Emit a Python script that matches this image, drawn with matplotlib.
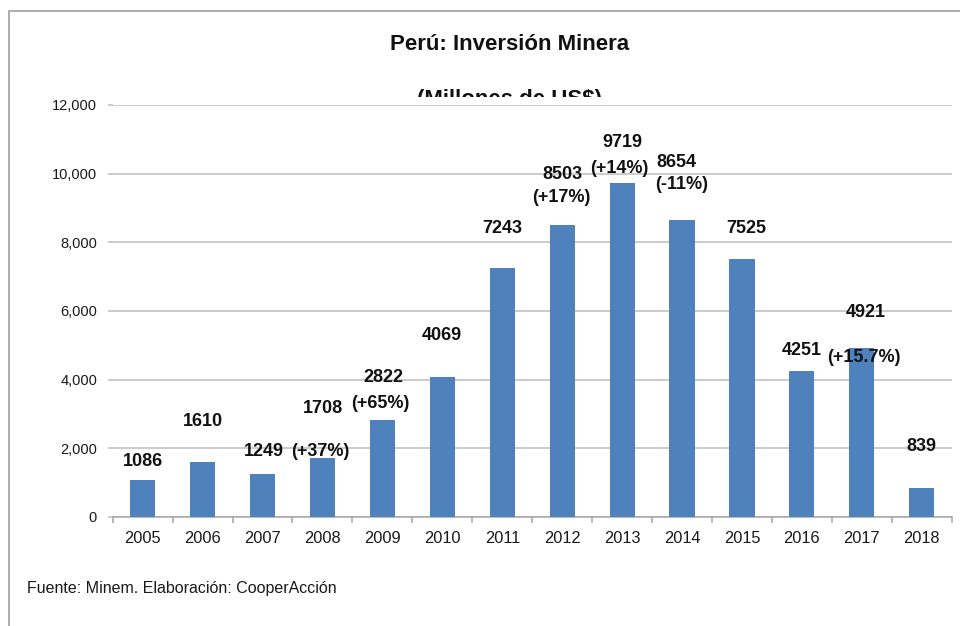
import matplotlib
matplotlib.use("Agg")
import matplotlib.pyplot as plt
from matplotlib.transforms import Bbox, TransformedBbox
from matplotlib.patches import Rectangle
from matplotlib import font_manager

# ---------------- data ----------------
years = ["2005", "2006", "2007", "2008", "2009", "2010", "2011",
         "2012", "2013", "2014", "2015", "2016", "2017", "2018"]
investment = [1086, 1610, 1249, 1708, 2822, 4069, 7243,
              8503, 9719, 8654, 7525, 4251, 4921, 839]
# growth annotations (year -> text)
growth_labels = {"2008": "(+37%)", "2009": "(+65%)", "2012": "(+17%)",
                 "2013": "(+14%)", "2014": "(-11%)", "2017": "(+15.7%)"}
yticks = [0, 2000, 4000, 6000, 8000, 10000, 12000]

title = "Perú: Inversión Minera"
subtitle = "(Millones de US$)"
source = "Fuente: Minem. Elaboración: CooperAcción"

# ---------------- layout of data labels (category-offset, y in data units) ----
value_pos = {
    "2005": (0.00, 1602), "2006": (0.00, 2767), "2007": (0.02, 1922),
    "2008": (0.00, 3146), "2009": (0.01, 4049), "2010": (0.00, 5272),
    "2011": (0.00, 8417), "2012": (0.00, 9990), "2013": (0.00, 10922),
    "2014": (-0.10, 10311), "2015": (0.08, 8417), "2016": (0.00, 4835),
    "2017": (0.07, 5942), "2018": (0.00, 2039),
}
growth_pos = {
    "2008": (-0.03, 1922), "2009": (-0.04, 3320), "2012": (-0.01, 9320),
    "2013": (-0.04, 10165), "2014": (0.00, 9670), "2017": (0.03, 4660),
}

# ---------------- fonts ----------------
avail = {f.name for f in font_manager.fontManager.ttflist}
base_font = "Liberation Sans" if "Liberation Sans" in avail else "DejaVu Sans"
title_font = "Liberation Sans Narrow" if "Liberation Sans Narrow" in avail else base_font
plt.rcParams["font.family"] = [base_font, "DejaVu Sans"]

W, H, DPI = 960, 626, 100
fig = plt.figure(figsize=(W / DPI, H / DPI), dpi=DPI)
fig.patch.set_facecolor("white")

# outer chart border (left + top visible)
border = Rectangle((8.5 / W, -0.1), 1.2, 1 - 11 / H + 0.1, transform=fig.transFigure,
                   fill=False, edgecolor="#a6a6a6", linewidth=1.3, zorder=0)
fig.patches.append(border)

ax_l, ax_r = 112.7 / W, 951.7 / W
ax_b, ax_t = 1 - 517 / H, 1 - 105 / H
ax = fig.add_axes([ax_l, ax_b, ax_r - ax_l, ax_t - ax_b])

x = list(range(len(years)))
ax.bar(x, investment, width=0.42, color="#4F81BD", zorder=3)

ax.set_xlim(-0.5, len(years) - 0.5)
ax.set_ylim(0, 12000)
ax.set_yticks(yticks)
ax.set_yticklabels([f"{v:,}" for v in yticks], fontsize=10.5, color="#1a1a1a")
ax.yaxis.grid(True, color="#bdbdbd", linewidth=1.1, zorder=0)
ax.set_axisbelow(True)

ax.set_xticks(x)
ax.set_xticklabels(years, fontsize=11.8, color="#1a1a1a")
ax.set_xticks([i - 0.5 for i in range(len(years) + 1)], minor=True)
ax.tick_params(axis="x", which="major", length=0, pad=10)
ax.tick_params(axis="x", which="minor", length=4, color="#a6a6a6", width=1.1, direction="out")
ax.tick_params(axis="y", length=3.3, color="#bdbdbd", width=1.1, pad=8)

for s in ["left", "right", "top"]:
    ax.spines[s].set_visible(False)
ax.spines["bottom"].set_color("#a6a6a6")
ax.spines["bottom"].set_linewidth(1.1)

lab_kw = dict(ha="center", va="center", fontsize=13, fontweight="bold",
              color="#111111", zorder=5)
for i, (yr, v) in enumerate(zip(years, investment)):
    dx, yy = value_pos[yr]
    ax.text(i + dx, yy, str(v), **lab_kw)
    if yr in growth_labels:
        gdx, gy = growth_pos[yr]
        ax.text(i + gdx, gy, growth_labels[yr], **lab_kw)

# titles
fig.text(0.531, 1 - 45 / H, title, ha="center", va="center", fontsize=16,
         fontweight="bold", family=[title_font, "DejaVu Sans"], color="#111111")
sub = fig.text(0.531, 1 - 100 / H, subtitle, ha="center", va="center", fontsize=16,
               fontweight="bold", family=[base_font, "DejaVu Sans"], color="#111111")
clip = TransformedBbox(Bbox([[0, 1 - 97 / H], [1, 1]]), fig.transFigure)
sub.set_clip_box(clip)
sub.set_clip_on(True)

fig.text(27 / W, 1 - 588 / H, source, ha="left", va="center", fontsize=11.5,
         color="#1a1a1a")

fig.savefig("out.png", dpi=DPI)
